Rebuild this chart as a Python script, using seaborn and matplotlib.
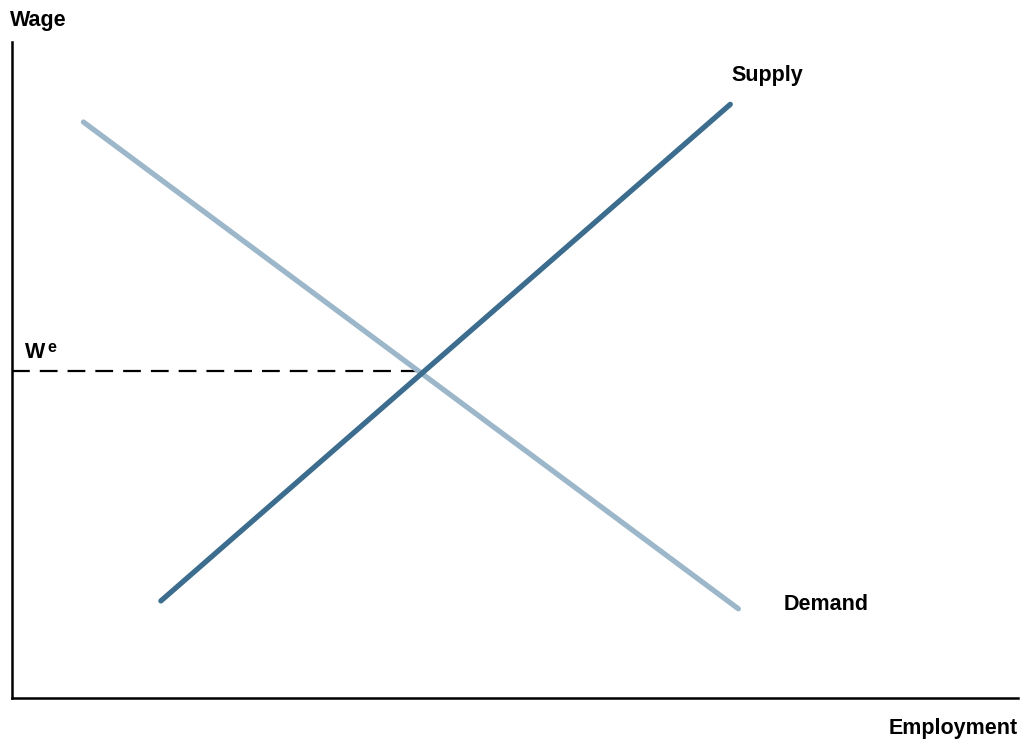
import matplotlib
matplotlib.use("Agg")
import matplotlib.pyplot as plt
import seaborn as sns
import pandas as pd

# ------------------- Data (axis units 0-100) -------------------
demand_x = [7.1, 72.2]
demand_y = [87.8, 13.6]
supply_x = [14.8, 71.4]
supply_y = [14.8, 90.5]
eq_x = [0, 40.9]
eq_y = [49.8, 49.8]

SUPPLY_COLOR = "#3c6d8e"
DEMAND_COLOR = "#9cb7ca"

sns.set_theme(style="white")
plt.rcParams['font.family'] = ['Liberation Sans', 'DejaVu Sans']
plt.rcParams['text.color'] = "black"

fig = plt.figure(figsize=(10.31, 7.4), dpi=100)
ax = fig.add_axes([12 / 1031, 42 / 740, 1006 / 1031, 656 / 740])

demand = pd.DataFrame({"x": demand_x, "y": demand_y})
supply = pd.DataFrame({"x": supply_x, "y": supply_y})
sns.lineplot(data=demand, x="x", y="y", color=DEMAND_COLOR, lw=3.8, ax=ax)
sns.lineplot(data=supply, x="x", y="y", color=SUPPLY_COLOR, lw=3.8, ax=ax)
ax.plot(eq_x, eq_y, color="black", lw=1.6, ls=(0, (8, 4.5)), zorder=1)

ax.set_xlim(0, 100)
ax.set_ylim(0, 100)
ax.set_xticks([])
ax.set_yticks([])
ax.set_xlabel("")
ax.set_ylabel("")
for s in ["top", "right"]:
    ax.spines[s].set_visible(False)
for s in ["left", "bottom"]:
    ax.spines[s].set_color("black")
    ax.spines[s].set_linewidth(1.8)

# ------------------- Labels -------------------
fs = 15.5
fig.text(10 / 1031, 1 - 26 / 740, "Wage", fontsize=fs, fontweight="bold",
         ha="left", va="baseline", color="black")
fig.text(1018 / 1031, 1 - 734 / 740, "Employment", fontsize=fs, fontweight="bold",
         ha="right", va="baseline", color="black")
ax.text(75.1, 94.0, "Supply", fontsize=fs, fontweight="bold", ha="center", va="baseline", color="black")
ax.text(80.9, 13.4, "Demand", fontsize=fs, fontweight="bold", ha="center", va="baseline", color="black")
ax.text(1.3, 51.8, "W", fontsize=fs, fontweight="bold", ha="left", va="baseline", color="black")
ax.text(3.55, 52.7, "e", fontsize=11.5, fontweight="bold", ha="left", va="baseline", color="black")

fig.savefig("out.png", dpi=100)
